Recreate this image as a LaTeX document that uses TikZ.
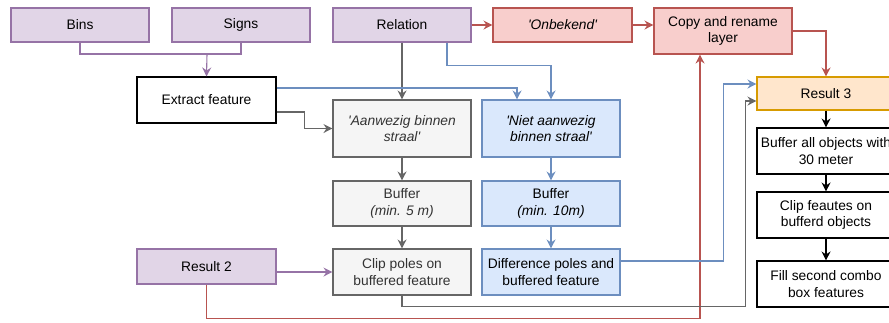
\documentclass[tikz,border=0pt]{standalone}
\usepackage{fontspec}
\setmainfont{Liberation Sans}
\usetikzlibrary{arrows.meta}
\newcommand{\sq}{\textquotesingle}
\definecolor{purpfill}{HTML}{E1D5E7}
\definecolor{purpline}{HTML}{9673A6}
\definecolor{redfill}{HTML}{F8CECC}
\definecolor{redline}{HTML}{B85450}
\definecolor{grayfill}{HTML}{F5F5F5}
\definecolor{grayline}{HTML}{666666}
\definecolor{graytext}{HTML}{333333}
\definecolor{bluefill}{HTML}{DAE8FC}
\definecolor{blueline}{HTML}{6C8EBF}
\definecolor{orangefill}{HTML}{FFE6CC}
\definecolor{orangeline}{HTML}{D79B00}
\begin{document}
\begin{tikzpicture}[x=1pt,y=-1pt,
  box/.style={draw, line width=1.1pt, minimum width=138pt, align=center,
    inner sep=0pt, font=\fontsize{13.8}{16.6}\selectfont},
  purpbox/.style={box, fill=purpfill, draw=purpline},
  redbox/.style={box, fill=redfill, draw=redline},
  graybox/.style={box, fill=grayfill, draw=grayline, text=graytext},
  bluebox/.style={box, fill=bluefill, draw=blueline},
  orangebox/.style={box, fill=orangefill, draw=orangeline},
  plainbox/.style={box, fill=white, draw=black},
  conn/.style={line width=1.1pt},
  arr/.style={conn, -{Stealth[length=9pt,width=9pt,inset=3pt]}},
]
\useasboundingbox (0,0) rectangle (889,322);

% inputs along the top
\node[purpbox, minimum height=34pt] (bins) at (80,25) {Bins};
\node[purpbox, minimum height=34pt] (signs) at (241,25) {Signs};
\node[purpbox, minimum height=34pt] (relation) at (402,25) {Relation};
\node[redbox, minimum height=34pt, minimum width=139pt] (onbekend) at (562.5,25) {\itshape\sq Onbekend\sq};
\node[redbox, minimum height=46pt] (copy) at (723,31) {Copy and rename\\layer};

\node[plainbox, minimum height=46pt, minimum width=139pt] (extract) at (206.5,100) {Extract feature};

% present within radius
\node[graybox, minimum height=57pt] (aanwezig) at (402,128.5) {\itshape\sq Aanwezig binnen\\\itshape straal\sq};
\node[graybox, minimum height=45pt] (buf5) at (402,203.5) {Buffer\\\itshape (min. 5 m)};
\node[graybox, minimum height=46pt] (clip) at (402,272) {Clip poles on\\buffered feature};

% not present within radius
\node[bluebox, minimum height=57pt] (niet) at (551,128.5) {\itshape\sq Niet aanwezig\\\itshape binnen straal\sq};
\node[bluebox, minimum height=45pt] (buf10) at (551,203.5) {Buffer\\\itshape (min. 10m)};
\node[bluebox, minimum height=46pt] (diff) at (551,272) {Difference poles and\\buffered feature};

\node[purpbox, minimum height=35pt, minimum width=139pt] (result2) at (206.5,266.5) {Result 2};

% right-hand column
\node[orangebox, minimum height=33pt] (result3) at (826,93.5) {Result 3};
\node[plainbox, minimum height=46pt] (bufall) at (826,151) {Buffer all objects with\\30 meter};
\node[plainbox, minimum height=46pt] (clipfeat) at (826,215) {Clip feautes on\\bufferd objects};
\node[plainbox, minimum height=46pt] (fill) at (826,284) {Fill second combo\\box features};

% Bins + Signs merge into Extract feature
\coordinate (merge) at (207,54);
\draw[conn, purpline] (bins.south) -- (bins.south |- merge) -- (signs.south |- merge) -- (signs.south);
\draw[arr, purpline] (merge) -- (extract.north);

% Relation branches
\draw[arr, grayline] (relation.south) -- (aanwezig.north);
\draw[arr, blueline] ([xshift=45pt]relation.south) -- ++(0,23) -| (niet.north);
\draw[arr, redline] (relation.east) -- (onbekend.west);
\draw[arr, redline] (onbekend.east) -- (onbekend.east -| copy.west);
\draw[arr, redline] (copy.east) -| (result3.north);

% Extract feature outputs
\draw[arr, blueline] ([yshift=12pt]extract.east) -| ([xshift=-34pt]niet.north);
\draw[arr, grayline] ([yshift=-12pt]extract.east) -- ++(28,0) |- (aanwezig.west);

% vertical chains
\draw[arr, grayline] (aanwezig.south) -- (buf5.north);
\draw[arr, grayline] (buf5.south) -- (clip.north);
\draw[arr, blueline] (niet.south) -- (buf10.north);
\draw[arr, blueline] (buf10.south) -- (diff.north);

% Result 2
\draw[arr, purpline] (result2.east |- clip.west) -- (clip.west);
\draw[arr, redline] (result2.south) -- ++(0,34) -| ([xshift=-23pt]copy.south);

% results into Result 3
\draw[arr, grayline] (clip.south) -- ++(0,11) -| ([xshift=-11pt,yshift=-7.5pt]result3.west) -- ([yshift=-7.5pt]result3.west);
\draw[arr, blueline] ([yshift=11pt]diff.east) -- ++(103,0) |- ([yshift=9.5pt]result3.west);

% right-hand chain
\draw[arr, black] (result3.south) -- (bufall.north);
\draw[arr, black] (bufall.south) -- (clipfeat.north);
\draw[arr, black] (clipfeat.south) -- (fill.north);
\end{tikzpicture}
\end{document}
